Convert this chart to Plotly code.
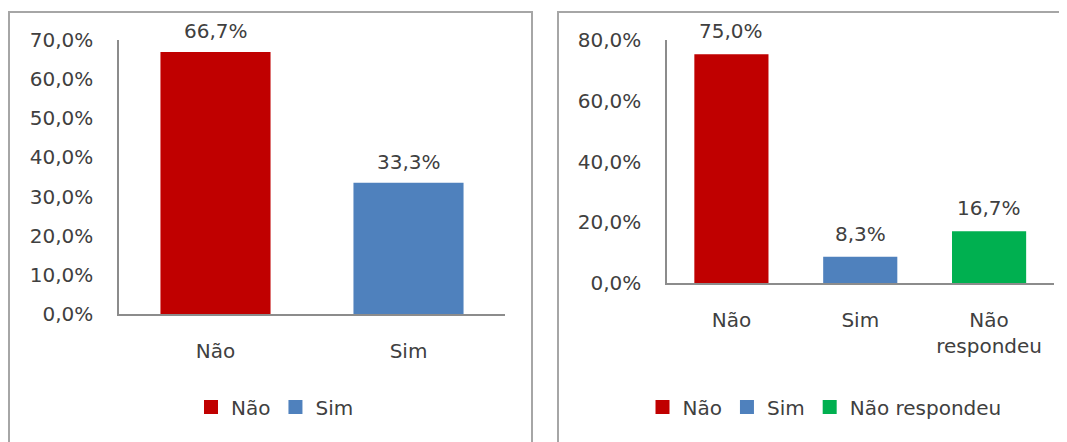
import plotly.graph_objects as go

# ---- data ----
left_categories = ["Não", "Sim"]
left_values = [66.7, 33.3]
right_categories = ["Não", "Sim", "Não respondeu"]
right_values = [75.0, 8.3, 16.7]
right_tick_text = ["Não", "Sim", "Não<br>respondeu"]
left_yticks = [0, 10, 20, 30, 40, 50, 60, 70]
right_yticks = [0, 20, 40, 60, 80]

colors = {"Não": "#C00000", "Sim": "#4F81BD", "Não respondeu": "#00B050"}

FONT = "DejaVu Sans"
TXT = "#404040"
FS = 20

W, H = 1067, 442
OFF = 8  # page body margin


def px_x(p):
    return (p - OFF) / W


def px_y(p):
    return 1 - (p - OFF) / H


def fmt(v):
    return f"{v:.1f}".replace(".", ",") + "%"


fig = go.Figure()

for cat, val in zip(left_categories, left_values):
    fig.add_trace(go.Bar(x=[cat], y=[val], name=cat, marker_color=colors[cat],
                         marker_line=dict(color=colors[cat], width=2),
                         xaxis="x", yaxis="y", legend="legend", width=0.56,
                         hoverinfo="skip"))
for cat, val in zip(right_categories, right_values):
    fig.add_trace(go.Bar(x=[cat], y=[val], name=cat, marker_color=colors[cat],
                         marker_line=dict(color=colors[cat], width=2),
                         xaxis="x2", yaxis="y2", legend="legend2", width=0.56,
                         hoverinfo="skip"))

annotations = []
for cat, val in zip(left_categories, left_values):
    annotations.append(dict(x=cat, y=val, xref="x", yref="y", text=fmt(val),
                            showarrow=False, yanchor="middle", yshift=22,
                            font=dict(family=FONT, size=FS, color=TXT)))
for cat, val in zip(right_categories, right_values):
    annotations.append(dict(x=cat, y=val, xref="x2", yref="y2", text=fmt(val),
                            showarrow=False, yanchor="middle", yshift=24,
                            font=dict(family=FONT, size=FS, color=TXT)))

axis_common = dict(showline=True, linecolor="#8C8C8C", linewidth=1.5,
                   showgrid=False, zeroline=False, ticks="",
                   tickfont=dict(family=FONT, size=FS, color=TXT),
                   fixedrange=True, automargin=False)

fig.update_layout(
    width=W, height=H,
    margin=dict(l=0, r=0, t=0, b=0, autoexpand=False),
    paper_bgcolor="white", plot_bgcolor="white",
    separators=",.",
    barmode="overlay",
    showlegend=True,
    xaxis=dict(domain=[px_x(119), px_x(505)], anchor="y",
               categoryorder="array", categoryarray=left_categories,
               ticklabelstandoff=18, **axis_common),
    yaxis=dict(domain=[px_y(314), px_y(40)], anchor="x", range=[0, 70],
               tickvals=left_yticks, ticktext=[fmt(v) for v in left_yticks],
               ticklabelstandoff=20, **axis_common),
    xaxis2=dict(domain=[px_x(667), px_x(1053.5)], anchor="y2",
                categoryorder="array", categoryarray=right_categories,
                tickvals=right_categories, ticktext=right_tick_text,
                ticklabelstandoff=18, **axis_common),
    yaxis2=dict(domain=[px_y(283), px_y(40)], anchor="x2", range=[0, 80],
                tickvals=right_yticks, ticktext=[fmt(v) for v in right_yticks],
                ticklabelstandoff=20, **axis_common),
    legend=dict(orientation="h", x=px_x(275), xanchor="center",
                y=px_y(407), yanchor="middle",
                font=dict(family=FONT, size=FS, color=TXT),
                bgcolor="rgba(0,0,0,0)", itemclick=False, itemdoubleclick=False),
    legend2=dict(orientation="h", x=px_x(824.5), xanchor="center",
                 y=px_y(407), yanchor="middle",
                 font=dict(family=FONT, size=FS, color=TXT),
                 bgcolor="rgba(0,0,0,0)", itemclick=False, itemdoubleclick=False),
    annotations=annotations,
    shapes=[
        dict(type="rect", xref="paper", yref="paper",
             x0=px_x(9), x1=px_x(532), y0=-0.1, y1=px_y(12),
             line=dict(color="#A6A6A6", width=2), fillcolor="rgba(0,0,0,0)",
             layer="below"),
        dict(type="rect", xref="paper", yref="paper",
             x0=px_x(558), x1=1.05, y0=-0.1, y1=px_y(12),
             line=dict(color="#A6A6A6", width=2), fillcolor="rgba(0,0,0,0)",
             layer="below"),
    ],
)

fig.write_html("out.html")
